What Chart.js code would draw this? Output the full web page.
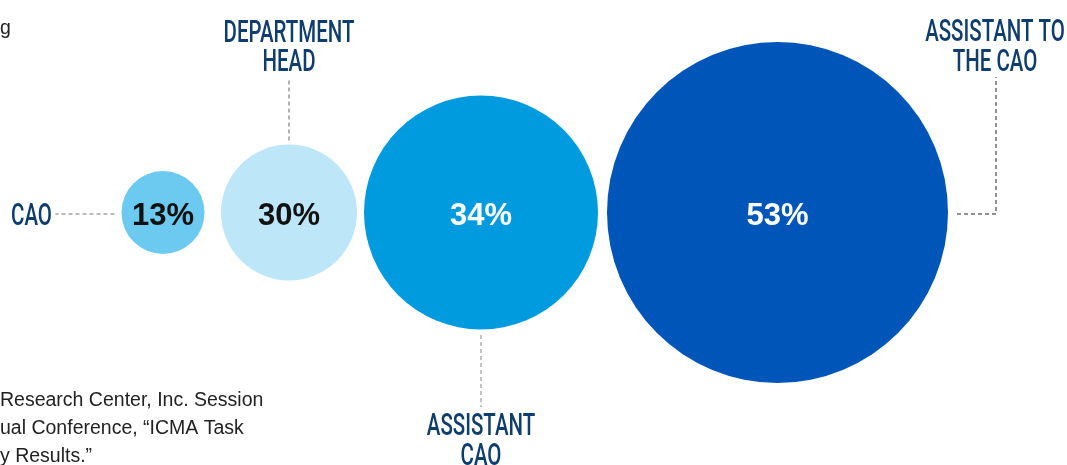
<!DOCTYPE html>
<html>
<head>
<meta charset="utf-8">
<script src="https://cdn.jsdelivr.net/npm/chart.js@4/dist/chart.umd.min.js"></script>
<style>
  html, body { margin: 0; padding: 0; background: #fff; }
</style>
</head>
<body>
<canvas id="myChart" width="1067" height="465"></canvas>
<script>
let categories = ['CAO', 'DEPARTMENT HEAD', 'ASSISTANT CAO', 'ASSISTANT TO THE CAO'];
let labelLines = [['CAO'], ['DEPARTMENT', 'HEAD'], ['ASSISTANT', 'CAO'], ['ASSISTANT TO', 'THE CAO']];
let shares = [13, 30, 34, 53];
// bubble centres along the row and radii
let bubbleX = [163, 289, 481, 777.5];
let bubbleR = [41.5, 68, 117, 170.5];
let colorHex = ['#6cc9ef', '#bee6f9', '#009bdf', '#0056b8'];
let valueColors = ['#111111', '#111111', '#ffffff', '#ffffff'];
let leaderSide = ['left', 'top', 'bottom', 'right'];
let sourceLines = ['Research Center, Inc. Session', 'ual Conference, \u201cICMA Task', 'y Results.\u201d'];

const navy = '#0e3d6e';

function narrowText(ctx, text, x, y) {
  ctx.save();
  ctx.translate(x, y);
  ctx.scale(0.66, 1);
  ctx.textAlign = 'center';
  ctx.fillText(text, 0, 0);
  ctx.restore();
}

function dashed(ctx, pts, color) {
  ctx.save();
  ctx.strokeStyle = color;
  ctx.lineWidth = 1;
  ctx.setLineDash([4, 3]);
  ctx.beginPath();
  ctx.moveTo(pts[0][0], pts[0][1]);
  for (let i = 1; i < pts.length; i++) ctx.lineTo(pts[i][0], pts[i][1]);
  ctx.stroke();
  ctx.restore();
}

const bubbleLabels = {
  id: 'bubbleLabels',
  afterDatasetsDraw(chart) {
    const ctx = chart.ctx;
    const meta = chart.getDatasetMeta(0);
    meta.data.forEach((el, i) => {
      const r = el.options.radius;
      // value in the middle
      ctx.save();
      ctx.fillStyle = valueColors[i];
      ctx.font = 'bold 31px "Liberation Sans", Arial, sans-serif';
      ctx.textAlign = 'center';
      ctx.textBaseline = 'alphabetic';
      ctx.fillText(shares[i] + '%', el.x, el.y + 12);
      ctx.restore();

      // category label and leader
      ctx.save();
      ctx.fillStyle = navy;
      ctx.font = '500 31px Roboto, sans-serif';
      ctx.textBaseline = 'alphabetic';
      const lines = labelLines[i];
      const side = leaderSide[i];
      if (side === 'left') {
        dashed(ctx, [[el.x - r - 7, el.y + 1.5], [el.x - r - 66, el.y + 1.5]], '#777');
        narrowText(ctx, lines[0], el.x - r - 90, el.y + 12.5);
      } else if (side === 'top') {
        dashed(ctx, [[el.x, el.y - r - 4], [el.x, el.y - r - 67]], '#666');
        narrowText(ctx, lines[0], el.x, el.y - r - 102.5);
        narrowText(ctx, lines[1], el.x, el.y - r - 73.5);
      } else if (side === 'bottom') {
        dashed(ctx, [[el.x, el.y + r + 5.5], [el.x, el.y + r + 77.5]], '#888');
        narrowText(ctx, lines[0], el.x, el.y + r + 105.5);
        narrowText(ctx, lines[1], el.x, el.y + r + 135.5);
      } else {
        const vx = el.x + r + 48;
        dashed(ctx, [[el.x + r + 9, el.y + 1.5], [vx, el.y + 1.5], [vx, 77]], '#222');
        narrowText(ctx, lines[0], vx - 1, 41);
        narrowText(ctx, lines[1], vx - 1, 71);
      }
      ctx.restore();
    });

    // cropped source note and caption fragments
    ctx.save();
    ctx.fillStyle = '#222';
    ctx.font = '19.5px "Liberation Sans", Arial, sans-serif';
    ctx.textAlign = 'left';
    ctx.fillText('g', 0, 34);
    sourceLines.forEach((t, k) => ctx.fillText(t, 0, 406 + k * 28));
    ctx.restore();
  }
};

let ctx = document.getElementById('myChart').getContext('2d');

let myChart = new Chart(ctx, {
  type: 'bubble',
  data: {
    labels: categories,
    datasets: [{
      data: categories.map((c, i) => ({ x: bubbleX[i], y: 0, r: bubbleR[i] })),
      backgroundColor: colorHex,
      borderWidth: 0,
      hoverRadius: 0
    }]
  },
  options: {
    responsive: false,
    animation: false,
    layout: { autoPadding: false, padding: 0 },
    scales: {
      x: { type: 'linear', min: 0, max: 1067, display: false },
      y: { type: 'linear', min: -252.5, max: 212.5, display: false }
    },
    plugins: {
      legend: { display: false },
      tooltip: { enabled: false }
    }
  },
  plugins: [bubbleLabels]
});
</script>
</body>
</html>
